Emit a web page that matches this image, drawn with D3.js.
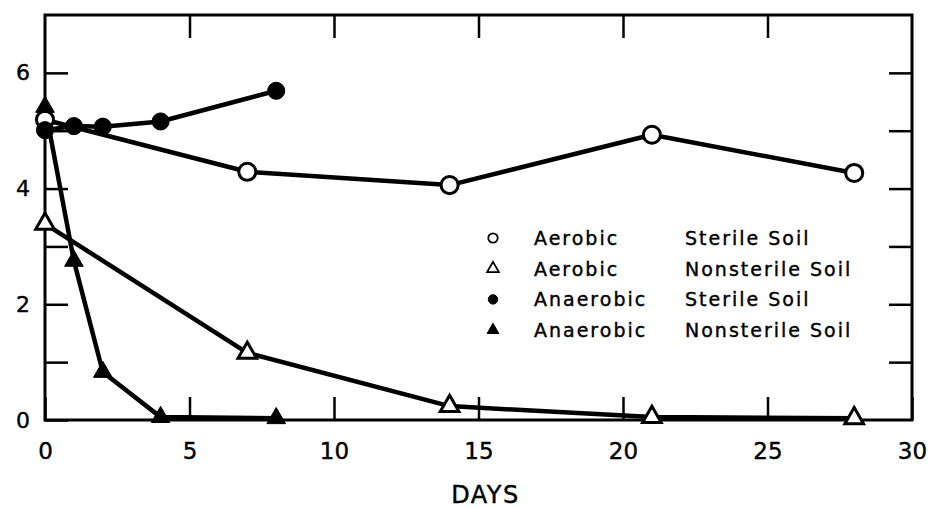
<!DOCTYPE html>
<html>
<head>
<meta charset="utf-8">
<script src="https://cdn.jsdelivr.net/npm/d3@7"></script>
<style>
  body { margin: 0; background: #fff; }
  text { font-family: "DejaVu Sans", "Liberation Sans", sans-serif; fill: #000; stroke: #000; stroke-width: 0.4px; }
</style>
</head>
<body>
<div id="chart"></div>
<script>
// Data
const aerSterileDays = [0, 7, 14, 21, 28];
const aerSterileVals = [5.19, 4.29, 4.06, 4.93, 4.27];

const aerNonDays = [0, 7, 14, 21, 28];
const aerNonVals = [3.39, 1.16, 0.24, 0.05, 0.03];

const anSterileDays = [0, 1, 2, 4, 8];
const anSterileVals = [5.01, 5.08, 5.07, 5.16, 5.69];

const anNonDays = [0, 1, 2, 4, 8];
const anNonVals = [5.41, 2.75, 0.83, 0.05, 0.03];

const xTicks = [0, 5, 10, 15, 20, 25, 30];
const yTicks = [0, 1, 2, 3, 4, 5, 6];

const legendCond = ["Aerobic", "Aerobic", "Anaerobic", "Anaerobic"];
const legendSoil = ["Sterile Soil", "Nonsterile Soil", "Sterile Soil", "Nonsterile Soil"];

const W = 932, H = 508;
const margin = { top: 15, right: 20, bottom: 88, left: 45 };
const width = W - margin.left - margin.right,
    height = H - margin.top - margin.bottom;

const svg = d3.select("#chart")
    .append("svg")
    .attr("width", W)
    .attr("height", H)
    .append("g")
    .attr("transform", `translate(${margin.left},${margin.top})`);

const x = d3.scaleLinear().domain([0, 30]).range([0, width]);
const y = d3.scaleLinear().domain([0, 7]).range([height, 0]);

// inward ticks on all four sides
const tick = 23;
const bottom = svg.append("g")
    .attr("transform", `translate(0,${height})`)
    .call(d3.axisBottom(x).tickValues(xTicks).tickSize(-tick).tickPadding(23));
svg.append("g")
    .call(d3.axisTop(x).tickValues(xTicks.slice(1, -1)).tickSize(-tick).tickFormat(""));
svg.append("g")
    .call(d3.axisLeft(y).tickValues(yTicks).tickSize(-tick).tickPadding(15)
        .tickFormat(d => d % 2 === 0 ? d : ""));
svg.append("g")
    .attr("transform", `translate(${width},0)`)
    .call(d3.axisRight(y).tickValues(yTicks.slice(1)).tickSize(-tick).tickFormat(""));

svg.selectAll(".domain").remove();
svg.selectAll(".tick line").attr("stroke", "#000").attr("stroke-width", 2.5);
svg.selectAll(".tick text")
    .style("font-size", "22px")
    .style("font-family", "DejaVu Sans, Liberation Sans, sans-serif")
    .attr("fill", "#000");
bottom.selectAll(".tick text").style("font-size", "23px");

// frame
svg.append("rect")
    .attr("width", width)
    .attr("height", height)
    .attr("fill", "none")
    .attr("stroke", "#000")
    .attr("stroke-width", 3);

svg.append("text")
    .attr("x", x(15) + 7)
    .attr("y", height + 83)
    .attr("text-anchor", "middle")
    .style("font-size", "24px")
    .style("letter-spacing", "1.5px")
    .text("DAYS");

const series = [
    { days: aerNonDays, vals: aerNonVals, shape: "tri", filled: false },
    { days: aerSterileDays, vals: aerSterileVals, shape: "circ", filled: false },
    { days: anNonDays, vals: anNonVals, shape: "tri", filled: true },
    { days: anSterileDays, vals: anSterileVals, shape: "circ", filled: true }
];

const line = d3.line().x(d => x(d[0])).y(d => y(d[1]));

series.forEach(s => {
    const pts = s.days.map((d, i) => [d, s.vals[i]]);
    svg.append("path")
        .datum(pts)
        .attr("d", line)
        .attr("fill", "none")
        .attr("stroke", "#000")
        .attr("stroke-width", 4.5)
        .attr("stroke-linejoin", "round");
});

function marker(sel, s, size) {
    const sym = s.shape === "tri" ? d3.symbolTriangle : d3.symbolCircle;
    return sel.append("path")
        .attr("d", d3.symbol().type(sym).size(size))
        .attr("fill", s.filled ? "#000" : "#fff")
        .attr("stroke", "#000")
        .attr("stroke-width", s.filled ? 1 : 3);
}

series.forEach(s => {
    s.days.forEach((d, i) => {
        const g = svg.append("g")
            .attr("transform", `translate(${x(d)},${y(s.vals[i])})`);
        marker(g, s, s.shape === "tri" ? 150 : 230);
    });
});

// legend
const legendShapes = [
    { shape: "circ", filled: false },
    { shape: "tri", filled: false },
    { shape: "circ", filled: true },
    { shape: "tri", filled: true }
];
const legend = svg.append("g")
    .attr("transform", `translate(${493 - margin.left},${238 - margin.top})`);
legendShapes.forEach((s, i) => {
    const row = legend.append("g").attr("transform", `translate(0,${i * 30.7})`);
    const m = marker(row, s, s.shape === "tri" ? 60 : 70);
    if (!s.filled) m.attr("stroke-width", 1.8);
    row.append("text")
        .attr("x", 41)
        .attr("dy", "0.36em")
        .style("font-size", "19px")
        .style("letter-spacing", "2px")
        .text(legendCond[i]);
    row.append("text")
        .attr("x", 192)
        .attr("dy", "0.36em")
        .style("font-size", "19px")
        .style("letter-spacing", "2px")
        .text(legendSoil[i]);
});
</script>
</body>
</html>
